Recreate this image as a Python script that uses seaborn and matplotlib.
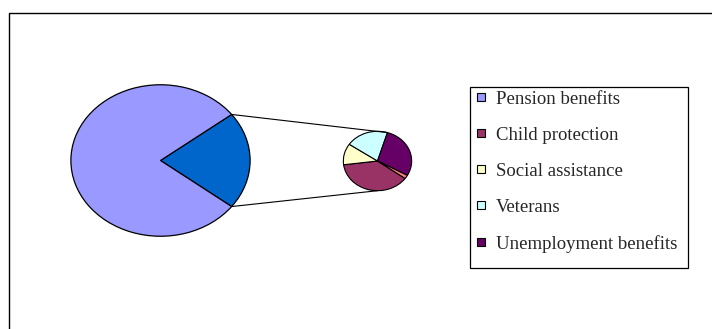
import matplotlib
matplotlib.use("Agg")
import matplotlib.pyplot as plt
import seaborn as sns
import numpy as np
from matplotlib.patches import Rectangle, ConnectionPatch
from matplotlib.lines import Line2D

# Social expenditure shares (%)
categories = ["Pension benefits", "Child protection", "Social assistance",
              "Veterans", "Unemployment benefits", "Other"]
values = [79.2, 7.9, 2.4, 4.2, 5.9, 0.4]
legend_labels = categories[:5]

main_colors = ["#9999FF", "#0066CC"]
detail_colors = ["#993366", "#FFFFCC", "#CCFFFF", "#660066", "#FF8080"]

sns.set_style("white")
plt.rcParams["font.family"] = ["Liberation Serif", "DejaVu Serif"]

W, H = 712, 329
fig = plt.figure(figsize=(W / 100, H / 100), dpi=100)
fig.patch.set_facecolor("white")


def fig_box(x0, y0, x1, y1):
    """Pixel box (y measured from top) -> figure fraction [l, b, w, h]."""
    return [x0 / W, (H - y1) / H, (x1 - x0) / W, (y1 - y0) / H]


# Main pie: pension benefits vs. the rest, which is split in the small pie
rest = sum(values[1:])
main_vals = [rest, values[0]]
half = rest / sum(values) * 360 / 2
ax_main = fig.add_axes(fig_box(70, 84, 251, 237))
ax_main.pie(main_vals, colors=main_colors[::-1], startangle=-half,
            counterclock=True, radius=1,
            wedgeprops=dict(edgecolor="black", linewidth=0.9))
ax_main.set_xlim(-1.01, 1.01)
ax_main.set_ylim(-1.01, 1.01)
ax_main.set_aspect("auto")
ax_main.axis("off")

# Secondary pie with the breakdown of the remaining share
detail_vals = values[1:]
detail_share = np.array(detail_vals) / rest * 360
detail_start = -36
ax_det = fig.add_axes(fig_box(343, 131, 412, 191))
ax_det.pie(detail_vals, colors=detail_colors, startangle=detail_start,
           counterclock=False, radius=1,
           wedgeprops=dict(edgecolor="black", linewidth=0.8))
ax_det.set_xlim(-1.01, 1.01)
ax_det.set_ylim(-1.01, 1.01)
ax_det.set_aspect("auto")
ax_det.axis("off")

# Connector lines between the two pies
top_end = np.deg2rad(detail_start - sum(detail_share[:3]) + 360)
for a_main, a_det in [(np.deg2rad(half), top_end),
                      (np.deg2rad(-half), np.deg2rad(-90))]:
    con = ConnectionPatch(xyA=(np.cos(a_main), np.sin(a_main)), coordsA=ax_main.transData,
                          xyB=(np.cos(a_det), np.sin(a_det)), coordsB=ax_det.transData,
                          color="black", linewidth=0.8)
    fig.add_artist(con)

# Legend box and entries
fig.add_artist(Rectangle((470 / W, (H - 268) / H), 218 / W, 181 / H,
                         transform=fig.transFigure, facecolor="white",
                         edgecolor="black", linewidth=0.9))
handles = [Line2D([], [], linestyle="none", marker="s", markersize=5.2,
                  markerfacecolor=c, markeredgecolor="black", markeredgewidth=0.8)
           for c in [main_colors[0]] + detail_colors[:4]]
fig.legend(handles, legend_labels, loc="upper left",
           bbox_to_anchor=(476 / W, (H - 90.5) / H), frameon=False,
           borderpad=0, borderaxespad=0, fontsize=13.5,
           handlelength=0.58, handleheight=0.7, handletextpad=0.48,
           labelspacing=1.01)

# Chart area border
fig.add_artist(Rectangle((9 / W, -0.1), 1.2, (H - 13) / H + 0.1,
                         transform=fig.transFigure, facecolor="none",
                         edgecolor="black", linewidth=1.0))

fig.savefig("out.png", dpi=100)
